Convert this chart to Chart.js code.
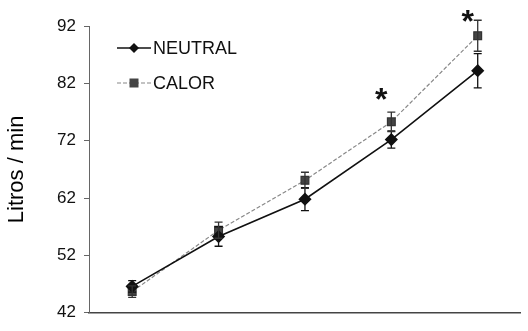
<!DOCTYPE html>
<html>
<head>
<meta charset="utf-8">
<script src="https://cdn.jsdelivr.net/npm/chart.js@4"></script>
<style>
  html, body { margin: 0; padding: 0; background: #fff; }
  #wrap { width: 528px; height: 331px; }
</style>
</head>
<body>
<div id="wrap"><canvas id="chart"></canvas></div>
<script>
// values
const stages = ['1', '2', '3', '4', '5'];
const neutral = [46.6, 55.3, 61.8, 72.2, 84.2];
const neutralErr = [1.0, 1.7, 2.0, 1.5, 3.0];
const calor = [45.7, 56.4, 65.1, 75.3, 90.3];
const calorErr = [1.0, 1.4, 1.4, 1.7, 2.7];
const starLevel = [null, null, null, 80.9, 94.4];
const yTicks = [42, 52, 62, 72, 82, 92];

const errBars = {
    id: 'errBars',
    afterDatasetsDraw(chart) {
        const ctx = chart.ctx;
        const x = chart.scales.x, y = chart.scales.y;
        const sets = [[neutral, neutralErr, '#111'], [calor, calorErr, '#333']];
        ctx.save();
        ctx.lineWidth = 1.3;
        sets.forEach(([vals, errs, col]) => {
            ctx.strokeStyle = col;
            vals.forEach((v, i) => {
                const px = x.getPixelForValue(i);
                const top = y.getPixelForValue(v + errs[i]);
                const bot = y.getPixelForValue(v - errs[i]);
                ctx.beginPath();
                ctx.moveTo(px, top); ctx.lineTo(px, bot);
                ctx.moveTo(px - 4, top); ctx.lineTo(px + 4, top);
                ctx.moveTo(px - 4, bot); ctx.lineTo(px + 4, bot);
                ctx.stroke();
            });
        });
        // significance marks
        ctx.fillStyle = '#111';
        ctx.font = 'bold 32px "Liberation Sans", Arial, sans-serif';
        ctx.textAlign = 'center';
        ctx.textBaseline = 'alphabetic';
        starLevel.forEach((s, i) => {
            if (s === null) return;
            const px = x.getPixelForValue(i) - 10;
            ctx.fillText('*', px, y.getPixelForValue(s) + 20);
        });
        ctx.restore();
    }
};

const legendBox = {
    id: 'legendBox',
    afterDraw(chart) {
        const ctx = chart.ctx;
        const items = [
            { label: 'NEUTRAL', ds: chart.data.datasets[0], y: 48 },
            { label: 'CALOR', ds: chart.data.datasets[1], y: 83 }
        ];
        ctx.save();
        items.forEach(it => {
            ctx.strokeStyle = it.ds.borderColor;
            ctx.lineWidth = it.ds.borderWidth;
            ctx.setLineDash(it.ds.borderDash || []);
            ctx.beginPath();
            ctx.moveTo(117, it.y); ctx.lineTo(151, it.y);
            ctx.stroke();
            ctx.setLineDash([]);
            ctx.fillStyle = it.ds.pointBackgroundColor;
            ctx.beginPath();
            if (it.ds.pointStyle === 'rectRot') {
                ctx.moveTo(134, it.y - 5); ctx.lineTo(139, it.y);
                ctx.lineTo(134, it.y + 5); ctx.lineTo(129, it.y);
            } else {
                ctx.rect(129.5, it.y - 4.5, 9, 9);
            }
            ctx.closePath();
            ctx.fill();
            ctx.fillStyle = '#111';
            ctx.font = '18px "Liberation Sans", Arial, sans-serif';
            ctx.textBaseline = 'middle';
            ctx.fillText(it.label, 153, it.y + 1);
        });
        ctx.restore();
    }
};

new Chart(document.getElementById('chart'), {
    type: 'line',
    data: {
        labels: stages,
        datasets: [{
            label: 'NEUTRAL',
            data: neutral,
            borderColor: '#111',
            borderWidth: 1.6,
            pointStyle: 'rectRot',
            pointRadius: 5.5,
            pointBackgroundColor: '#111',
            pointBorderColor: '#111',
            tension: 0
        }, {
            label: 'CALOR',
            data: calor,
            borderColor: '#888',
            borderWidth: 1.2,
            borderDash: [4, 2],
            pointStyle: 'rect',
            pointRadius: 5.5,
            pointBackgroundColor: '#444',
            pointBorderColor: '#333',
            tension: 0
        }]
    },
    options: {
        responsive: true,
        maintainAspectRatio: false,
        animation: false,
        layout: { padding: { top: 26, bottom: 9, left: 0, right: 0 } },
        plugins: { legend: { display: false }, tooltip: { enabled: false } },
        scales: {
            x: {
                offset: true,
                ticks: { display: false },
                grid: { display: false, drawTicks: false },
                border: { color: '#444', width: 1.5 }
            },
            y: {
                min: 42,
                max: 92,
                afterFit(scale) { scale.width = 89; },
                afterBuildTicks(scale) { scale.ticks = yTicks.map(v => ({ value: v })); },
                ticks: {
                    color: '#111',
                    padding: 8,
                    font: { family: '"Liberation Sans", Arial, sans-serif', size: 17 }
                },
                grid: { drawOnChartArea: false, drawTicks: true, tickLength: 5, color: '#666' },
                border: { color: '#666', width: 1 },
                title: {
                    display: true,
                    text: 'Litros / min',
                    color: '#000',
                    padding: { top: 4, bottom: 0 },
                    font: { family: '"Liberation Sans", Arial, sans-serif', size: 22 }
                }
            }
        }
    },
    plugins: [errBars, legendBox]
});
</script>
</body>
</html>
